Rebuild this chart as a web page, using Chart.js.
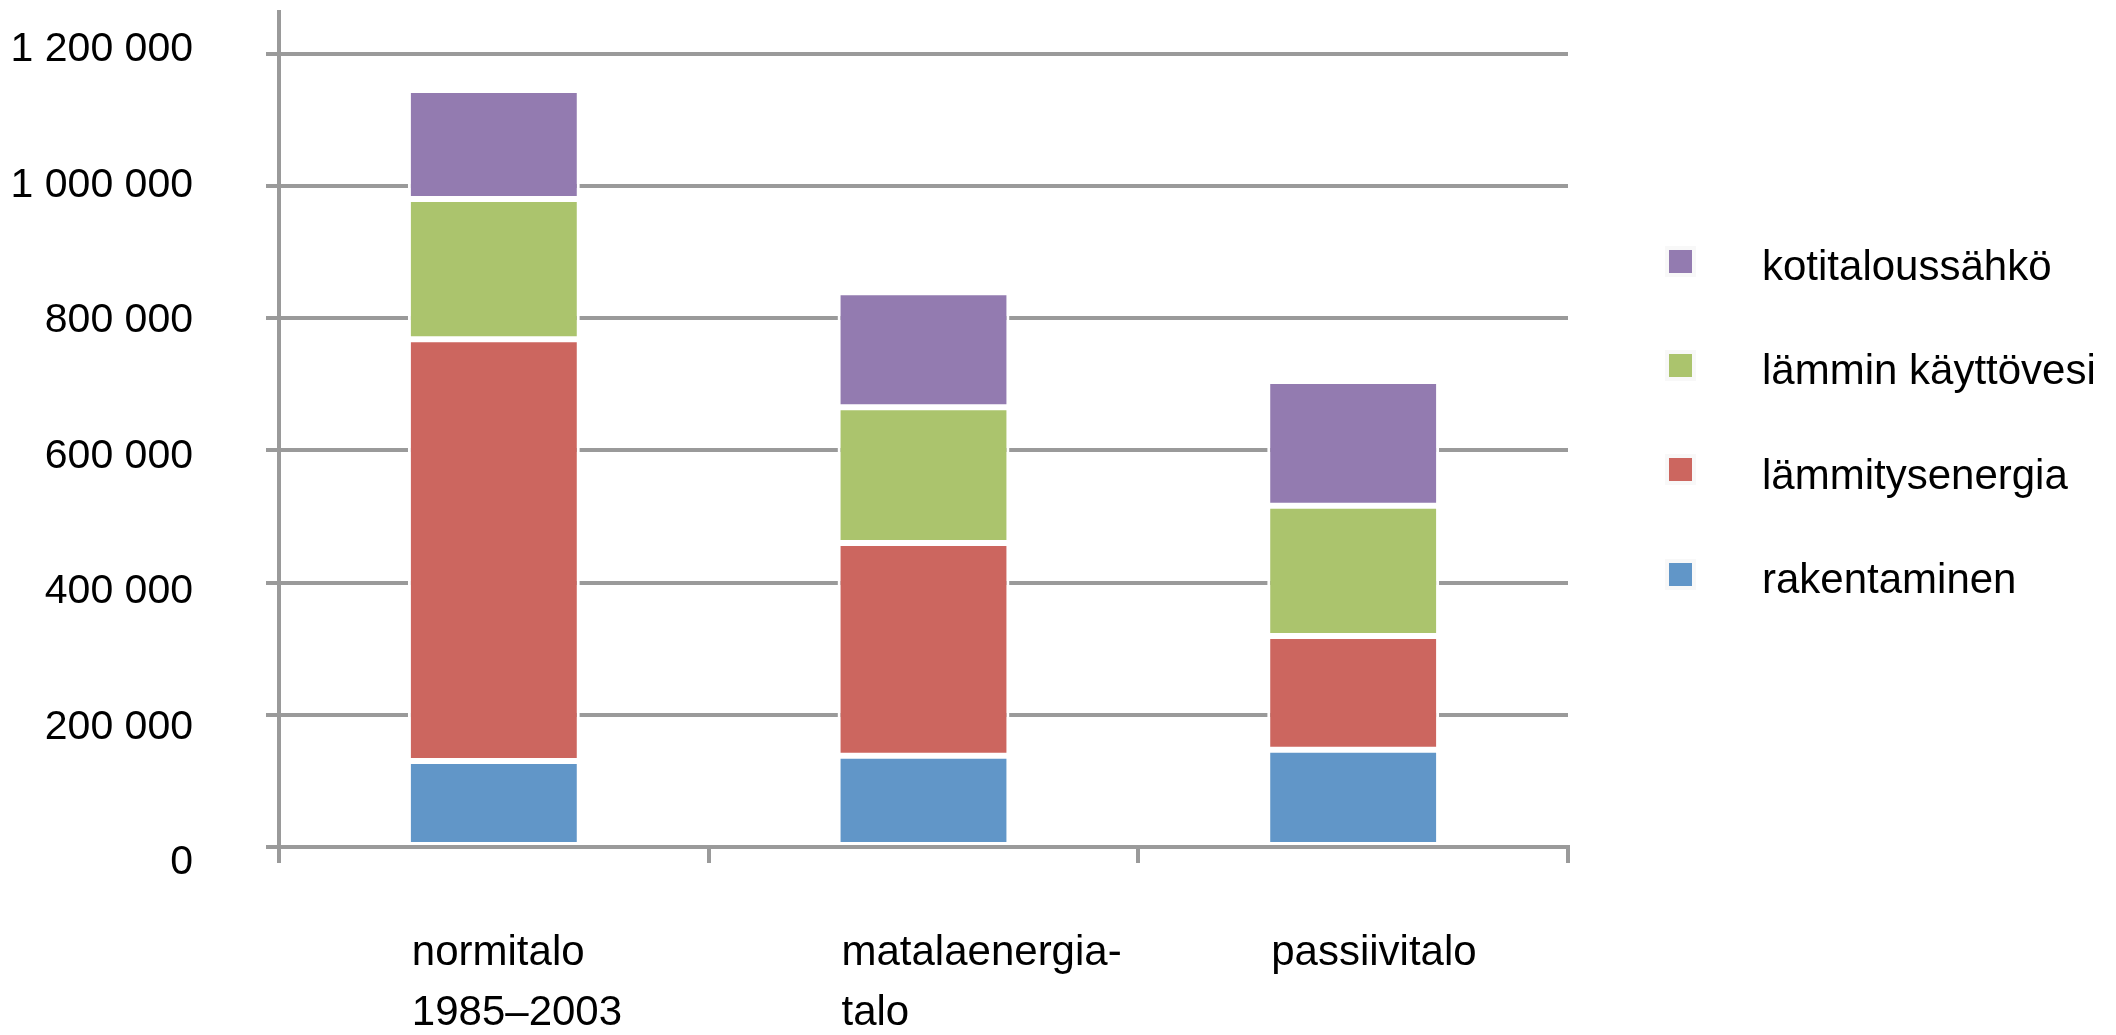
<!DOCTYPE html>
<html>
<head>
<meta charset="utf-8">
<script src="https://cdn.jsdelivr.net/npm/chart.js@4.4.1/dist/chart.umd.min.js"></script>
<style>
  html, body { margin: 0; padding: 0; background: #fff; }
  #wrap { position: relative; width: 2116px; height: 1035px; }
  #legend {
    position: absolute; left: 1669px; top: 209px;
    font-family: 'Liberation Sans', Arial, Helvetica, sans-serif;
    font-size: 42px; color: #000;
  }
  .item { display: flex; align-items: center; height: 104.3px; }
  .box { width: 23px; height: 23px; margin-right: 70px; box-shadow: 0 0 0 4px #f8f8f8; }
  .item span { position: relative; top: 5px; white-space: nowrap; }
</style>
</head>
<body>
<div id="wrap">
  <canvas id="chart"></canvas>
  <div id="legend"></div>
</div>
<script>
const categories = [['normitalo', '1985–2003'], ['matalaenergia-', 'talo'], ['passiivitalo']];
const seriesNames = ['rakentaminen', 'lämmitysenergia', 'lämmin käyttövesi', 'kotitaloussähkö'];
const seriesColors = ['#6196c8', '#cc665f', '#abc46d', '#937bb0'];

const rakentaminen = [130000, 138000, 147000];
const lammitysenergia = [638000, 322000, 172000];
const lamminKayttovesi = [212000, 205000, 197000];
const kotitaloussahko = [165000, 174000, 189000];

const yTicks = [0, 200000, 400000, 600000, 800000, 1000000, 1200000];

const FONT = "'Liberation Sans', Arial, Helvetica, sans-serif";
const GREY = '#9a9a9a';

// tuhaterotin välilyönnillä: 1 200 000
const fmt = v => String(v).replace(/\B(?=(\d{3})+(?!\d))/g, ' ');

const values = [rakentaminen, lammitysenergia, lamminKayttovesi, kotitaloussahko];

new Chart(document.getElementById('chart'), {
  type: 'bar',
  data: {
    labels: categories,
    datasets: seriesNames.map((name, i) => ({
      label: name,
      data: values[i],
      yAxisID: 'y',
      backgroundColor: seriesColors[i],
      borderColor: '#ffffff',
      borderWidth: 3,
      borderSkipped: false,
      barPercentage: 0.4,
      categoryPercentage: 1
    }))
  },
  options: {
    responsive: true,
    maintainAspectRatio: false,
    animation: false,
    layout: { padding: { top: 12, right: 548, left: 0, bottom: 0 } },
    plugins: { legend: { display: false }, tooltip: { enabled: false } },
    scales: {
      x: {
        stacked: true,
        z: 1,
        offset: true,
        grid: { offset: true, drawOnChartArea: false, drawTicks: true, tickLength: 16, color: GREY, lineWidth: 4 },
        border: { color: GREY, width: 4 },
        ticks: {
          align: 'start',
          labelOffset: -82,
          padding: 60,
          maxRotation: 0,
          autoSkip: false,
          color: '#000',
          font: { family: FONT, size: 42, lineHeight: 1.43 }
        },
        afterFit: s => { s.height = 188; }
      },
      // varsinainen arvoakseli: ruudukko ja akseliviiva
      y: {
        stacked: true,
        weight: 0,
        min: 0,
        max: 1263000,
        afterBuildTicks: axis => { axis.ticks = yTicks.map(v => ({ value: v })); },
        grid: { color: GREY, lineWidth: 4, tickLength: 13 },
        border: { color: GREY, width: 4 },
        ticks: { display: false },
        afterFit: s => { s.width = 0; s.paddingTop = 0; s.paddingBottom = 0; }
      },
      // lukuarvot: alkuperäisessä kuvassa hieman eri välein kuin viivat
      yl: {
        type: 'linear',
        position: 'left',
        weight: 1,
        min: 23750,
        max: 1255680,
        afterBuildTicks: axis => { axis.ticks = yTicks.map(v => ({ value: v })); },
        grid: { display: false, drawTicks: false },
        border: { display: false },
        ticks: {
          autoSkip: false,
          padding: 86,
          color: '#000',
          font: { family: FONT, size: 41 },
          callback: v => fmt(v)
        },
        afterFit: s => { s.width = 279; s.paddingTop = 0; s.paddingBottom = 0; }
      }
    }
  }
});

// legenda oikealle, ylin sarja ensin
const legend = document.getElementById('legend');
for (let i = seriesNames.length - 1; i >= 0; i--) {
  const row = document.createElement('div');
  row.className = 'item';
  const box = document.createElement('div');
  box.className = 'box';
  box.style.background = seriesColors[i];
  const txt = document.createElement('span');
  txt.textContent = seriesNames[i];
  row.appendChild(box);
  row.appendChild(txt);
  legend.appendChild(row);
}
</script>
</body>
</html>
